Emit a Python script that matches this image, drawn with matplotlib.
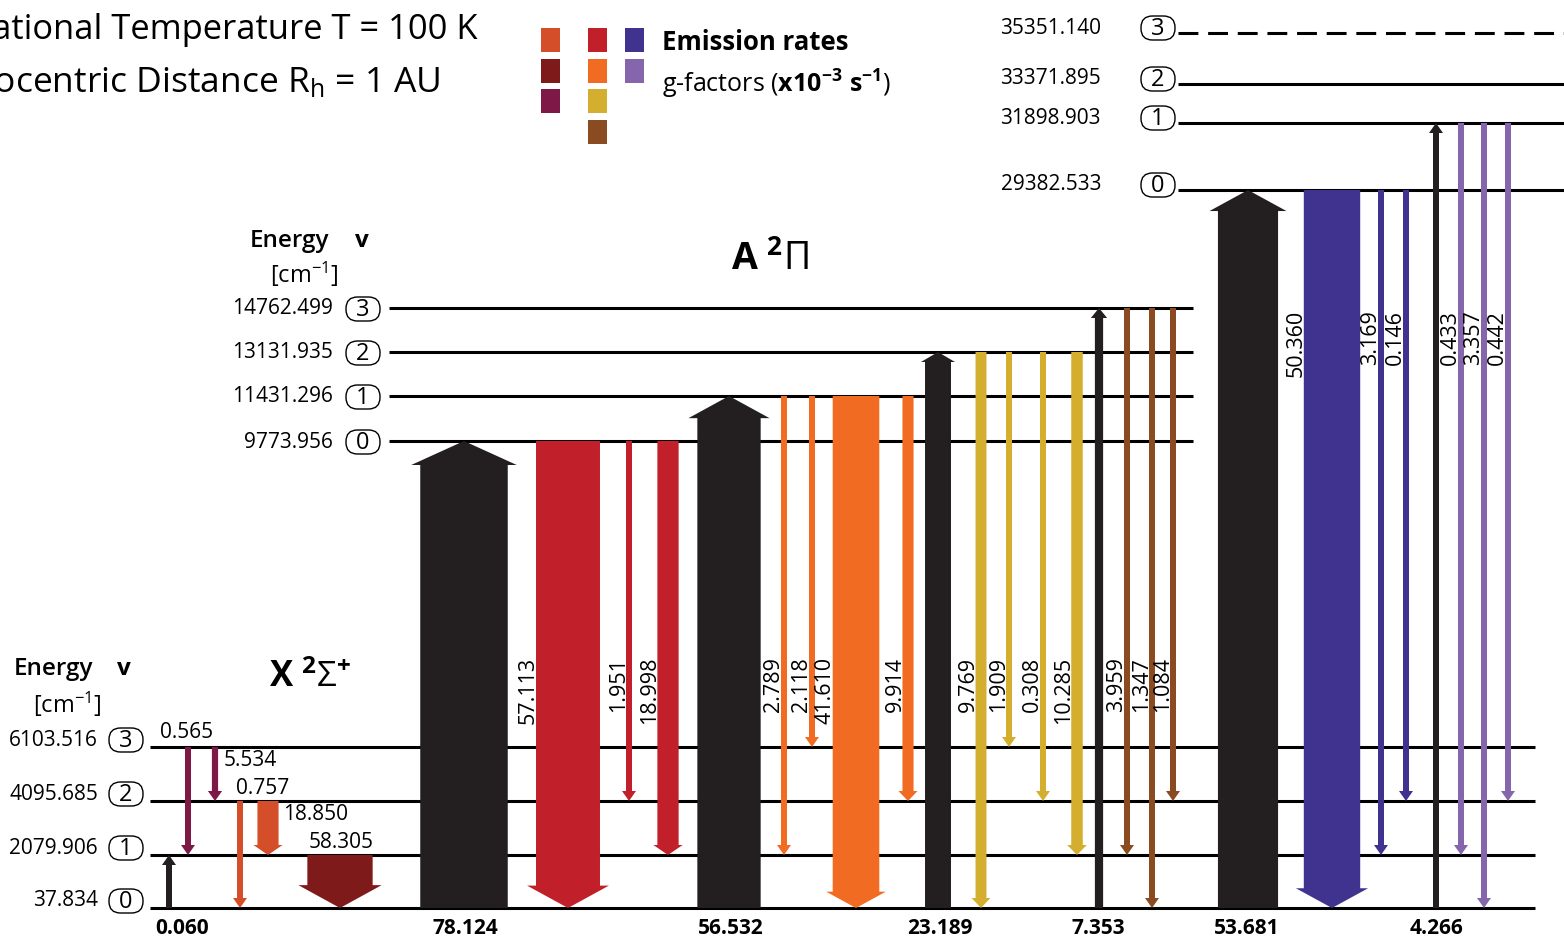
import matplotlib
matplotlib.use("Agg")
import matplotlib.pyplot as plt
from matplotlib.patches import Polygon, Rectangle, FancyBboxPatch

plt.rcParams['font.family'] = ['Open Sans', 'DejaVu Sans']
plt.rcParams['mathtext.fontset'] = 'custom'
plt.rcParams['mathtext.rm'] = 'Open Sans'
plt.rcParams['mathtext.it'] = 'Open Sans:italic'
plt.rcParams['mathtext.bf'] = 'Open Sans:bold'

# ---- data ----
x_energy = [37.834, 2079.906, 4095.685, 6103.516]
a_energy = [9773.956, 11431.296, 13131.935, 14762.499]
b_energy = [29382.533, 31898.903, 33371.895, 35351.140]

# excitation from X(v=0)
exc_state = ['X', 'A', 'A', 'A', 'A', 'B', 'B']
exc_v = [1, 0, 1, 2, 3, 0, 1]
exc_g = [0.060, 78.124, 56.532, 23.189, 7.353, 53.681, 4.266]

# emission down to X(v)
em_state = ['X', 'X', 'X', 'X', 'X',
            'A', 'A', 'A',
            'A', 'A', 'A', 'A',
            'A', 'A', 'A', 'A',
            'A', 'A', 'A',
            'B', 'B', 'B',
            'B', 'B', 'B']
em_v_up = [3, 3, 2, 2, 1,
           0, 0, 0,
           1, 1, 1, 1,
           2, 2, 2, 2,
           3, 3, 3,
           0, 0, 0,
           1, 1, 1]
em_v_low = [1, 2, 0, 1, 0,
            0, 2, 1,
            1, 3, 0, 2,
            0, 3, 2, 1,
            1, 0, 2,
            0, 1, 2,
            1, 0, 2]
em_g = [0.565, 5.534, 0.757, 18.850, 58.305,
        57.113, 1.951, 18.998,
        2.789, 2.118, 41.610, 9.914,
        9.769, 1.909, 0.308, 10.285,
        3.959, 1.347, 1.084,
        50.360, 3.169, 0.146,
        0.433, 3.357, 0.442]

# ---- layout (pixel space) ----
level_y = {'X': [908, 855, 801, 747], 'A': [441, 396, 352, 308], 'B': [190, 123, 84, 33]}
level_span = {'X': (150, 1535), 'A': (389, 1193), 'B': (1178, 1564)}
label_right = {'X': 98, 'A': 333, 'B': 1101}
circle_x = {'X': 126, 'A': 363, 'B': 1158}
label_dy = {'X': -7, 'A': 1, 'B': -5}

exc_x = [169, 464, 729, 938, 1099, 1248, 1436]
exc_label_x = [182, 465, 731, 940, 1098, 1247, 1436]
em_x = [188, 215, 240, 268, 340,
        568, 629, 668,
        784, 812, 856, 908,
        981, 1009, 1043, 1077,
        1127, 1152, 1173,
        1332, 1381, 1406,
        1461, 1484, 1508]
x_label_pos = [(160, 733), (224, 761), (236, 788), (283, 815), (309, 842)]
rot_label_top = {'A': 657, 'B': 310}

colors = {
    ('X', 3): '#7e1846', ('X', 2): '#d44e2a', ('X', 1): '#7f1a1a',
    ('A', 0): '#c1202a', ('A', 1): '#f26b23', ('A', 2): '#d4af2f', ('A', 3): '#8a4b20',
    ('B', 0): '#40328f', ('B', 1): '#8566ad',
}
black = '#231f20'

fig = plt.figure(figsize=(15.64, 9.38), dpi=100)
ax = fig.add_axes([0, 0, 1, 1])
ax.set_xlim(0, 1564)
ax.set_ylim(938, 0)
ax.axis('off')


def draw_arrow(x, y0, y1, g, color):
    w = max(6, 1.12 * g)
    d = 1 if y1 > y0 else -1
    hl = min(24, max(10, 0.35 * w))
    hw = w + min(18, max(8, 0.28 * w))
    yb = y1 - d * hl
    pts = [(x - w / 2, y0), (x - w / 2, yb), (x - hw / 2, yb), (x, y1),
           (x + hw / 2, yb), (x + w / 2, yb), (x + w / 2, y0)]
    ax.add_patch(Polygon(pts, closed=True, fc=color, ec='none', zorder=3))
    return w


# levels
energies = {'X': x_energy, 'A': a_energy, 'B': b_energy}
for st in ['X', 'A', 'B']:
    x0, x1 = level_span[st]
    for v, e in enumerate(energies[st]):
        y = level_y[st][v]
        if st == 'B' and v == 3:
            ax.plot([x0, x1], [y, y], color='black', lw=2.2, ls='--', dashes=(6.5, 3.2), zorder=1)
        else:
            ax.plot([x0, x1], [y, y], color='black', lw=2.2, zorder=1, solid_capstyle='butt')
        yl = y + label_dy[st]
        ax.text(label_right[st], yl, f"{e:.3f}", ha='right', va='center', fontsize=15)
        ax.add_patch(FancyBboxPatch((circle_x[st] - 17, yl - 12), 34, 24,
                                    boxstyle='round,pad=0,rounding_size=11.5',
                                    fc='white', ec='black', lw=1.0, zorder=2))
        ax.text(circle_x[st], yl + 1, str(v), ha='center', va='center', fontsize=17, zorder=4)

# excitation arrows
for st, v, g, x, lx in zip(exc_state, exc_v, exc_g, exc_x, exc_label_x):
    draw_arrow(x, level_y['X'][0], level_y[st][v], g, black)
    ax.text(lx, 928, f"{g:.3f}", ha='center', va='center', fontsize=15, fontweight='bold')

# emission arrows
k = 0
for st, vu, vl, g, x in zip(em_state, em_v_up, em_v_low, em_g, em_x):
    w = draw_arrow(x, level_y[st][vu], level_y['X'][vl], g, colors[(st, vu)])
    if st == 'X':
        lx, ly = x_label_pos[k]
        k += 1
        ax.text(lx, ly, f"{g:.3f}", ha='left', va='center', fontsize=15)
    else:
        ax.text(x - w / 2 - 2, rot_label_top[st], f"{g:.3f}", rotation=90,
                rotation_mode='anchor', ha='right', va='baseline', fontsize=15.5)

# headings
for ex, vx, cx, ey, cy in [(290, 362, 304, 241, 274), (53, 124, 67, 669, 704)]:
    ax.text(ex, ey, 'Energy', ha='center', va='center', fontsize=17.5, fontweight='semibold')
    ax.text(vx, ey, 'v', ha='center', va='center', fontsize=17.5, fontweight='bold')
    ax.text(cx, cy, r'[cm$^{-1}$]', ha='center', va='center', fontsize=17)

ax.text(770, 260, r'A $^{\mathbf{2}}\Pi$', ha='center', va='center', fontsize=27, fontweight='bold')
ax.text(310, 678, r'X $^{\mathbf{2}}\Sigma^{\mathbf{+}}$', ha='center', va='center', fontsize=25,
        fontweight='bold')

# conditions (cut at the left edge, as in the source figure)
ax.text(478, 30, 'Rotational Temperature T = 100 K', ha='right', va='center', fontsize=24.8)
ax.text(440, 82, r'Heliocentric Distance R$_{\mathrm{h}}$ = 1 AU', ha='right', va='center', fontsize=25.5)

# legend swatches
legend_cols = [[('X', 2), ('X', 1), ('X', 3)],
               [('A', 0), ('A', 1), ('A', 2), ('A', 3)],
               [('B', 0), ('B', 1)]]
col_left = [541, 588, 625]
row_top = [28, 59, 89, 120]
for cl, keys in zip(col_left, legend_cols):
    for rt, key in zip(row_top, keys):
        ax.add_patch(Rectangle((cl, rt), 19, 24, fc=colors[key], ec='none'))
ax.text(662, 43, 'Emission rates', ha='left', va='center', fontsize=18.5, fontweight='bold')
ax.text(662, 84, r'g-factors ($\mathbf{x10^{-3}\ s^{-1}}$)', ha='left', va='center', fontsize=18)

fig.savefig('out.png', dpi=100)
